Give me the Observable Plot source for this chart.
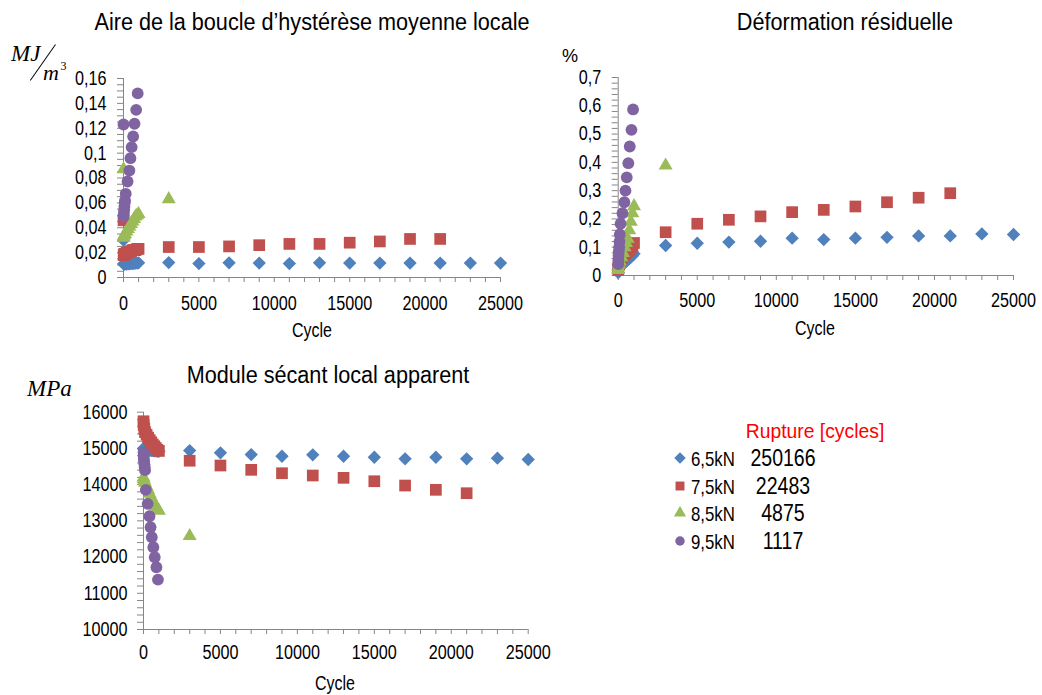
<!DOCTYPE html>
<html><head><meta charset="utf-8">
<script src="https://cdn.jsdelivr.net/npm/d3@7"></script>
<script src="https://cdn.jsdelivr.net/npm/@observablehq/plot@0.6"></script>
<style>
body{margin:0;background:#fff;}
#root{position:relative;width:1042px;height:695px;overflow:hidden;font-family:"Liberation Sans",Arial,sans-serif;color:#000;background:#fff;}
.abs{position:absolute;white-space:nowrap;line-height:1;}
</style></head><body><div id="root"></div>
<script>
// ---------- data ----------
const seriesNames = ["6,5kN", "7,5kN", "8,5kN", "9,5kN"];
const ruptureCycles = ["250166", "22483", "4875", "1117"];
const seriesColors = ["#4F81BD", "#C0504D", "#9BBB59", "#8064A2"];
const seriesSymbols = ["diamond2", "square", "triangle", "circle"];
const seriesRadius = [6.0, 6.6, 5.2, 5.9];

const cycles65 = [1, 10, 50, 100, 200, 300, 400, 500, 600, 700, 800, 900, 1000, 3000, 5000, 7000, 9000, 11000, 13000, 15000, 17000, 19000, 21000, 23000, 25000];
const area65 = [0.030, 0.011, 0.0105, 0.011, 0.0108, 0.011, 0.011, 0.0112, 0.0112, 0.0113, 0.0115, 0.0115, 0.0118, 0.0120, 0.0112, 0.0118, 0.0116, 0.0112, 0.0118, 0.0116, 0.0116, 0.0116, 0.0116, 0.0116, 0.0116];
const resid65 = [0.01, 0.02, 0.025, 0.03, 0.035, 0.04, 0.045, 0.05, 0.055, 0.06, 0.065, 0.07, 0.077, 0.106, 0.114, 0.118, 0.121, 0.132, 0.127, 0.132, 0.135, 0.140, 0.140, 0.147, 0.145];
const module65 = [15000, 14990, 14980, 14970, 14960, 14950, 14950, 14940, 14940, 14930, 14930, 14920, 14920, 14940, 14877, 14830, 14784, 14822, 14784, 14757, 14713, 14757, 14713, 14730, 14694];

const cycles75 = [1, 10, 50, 100, 200, 300, 400, 500, 600, 700, 800, 900, 1000, 3000, 5000, 7000, 9000, 11000, 13000, 15000, 17000, 19000, 21000];
const area75 = [0.046, 0.018, 0.019, 0.019, 0.020, 0.020, 0.021, 0.021, 0.022, 0.022, 0.022, 0.023, 0.023, 0.0245, 0.0245, 0.025, 0.026, 0.027, 0.027, 0.028, 0.029, 0.031, 0.031];
const resid75 = [0.02, 0.03, 0.04, 0.05, 0.06, 0.07, 0.075, 0.08, 0.085, 0.09, 0.10, 0.105, 0.115, 0.153, 0.183, 0.197, 0.209, 0.224, 0.232, 0.244, 0.259, 0.275, 0.291];
const module75 = [15750, 15650, 15550, 15450, 15380, 15300, 15230, 15170, 15110, 15060, 15010, 14960, 14930, 14660, 14528, 14409, 14315, 14252, 14188, 14094, 13975, 13857, 13763];

const cycles85 = [1, 10, 50, 100, 200, 300, 400, 500, 600, 700, 800, 900, 1000, 3000];
const area85 = [0.087, 0.032, 0.034, 0.035, 0.037, 0.039, 0.041, 0.043, 0.045, 0.047, 0.049, 0.050, 0.051, 0.063];
const resid85 = [0.02, 0.03, 0.04, 0.05, 0.065, 0.08, 0.10, 0.115, 0.13, 0.16, 0.19, 0.22, 0.245, 0.389];
const module85 = [14200, 14150, 14100, 14050, 13950, 13850, 13750, 13650, 13550, 13480, 13400, 13320, 13280, 12580];

const cycles95 = [1, 10, 20, 40, 60, 80, 100, 150, 270, 390, 460, 540, 640, 730, 840, 940];
const area95 = [0.123, 0.049, 0.051, 0.054, 0.057, 0.060, 0.062, 0.0673, 0.0772, 0.086, 0.0959, 0.1048, 0.1134, 0.1236, 0.1348, 0.148];
const resid95 = [0.04, 0.055, 0.07, 0.085, 0.10, 0.12, 0.145, 0.183, 0.220, 0.259, 0.300, 0.347, 0.397, 0.456, 0.515, 0.587];
const module95 = [14880, 14800, 14720, 14640, 14560, 14480, 14400, 13857, 13470, 13127, 12824, 12548, 12271, 11995, 11719, 11379];

const xMajorTicks = [0, 5000, 10000, 15000, 20000, 25000];
const areaMajorTicks = [0, 0.02, 0.04, 0.06, 0.08, 0.1, 0.12, 0.14, 0.16];
const residMajorTicks = [0, 0.1, 0.2, 0.3, 0.4, 0.5, 0.6, 0.7];
const moduleMajorTicks = [10000, 11000, 12000, 13000, 14000, 15000, 16000];

const allCycles = [cycles65, cycles75, cycles85, cycles95];
// ---------- helpers ----------
const root = document.getElementById("root");
const gray = "#868686";
const fmt = d3.formatLocale({decimal: ",", thousands: "", grouping: [3], currency: ["", ""]}).format("~g");

function minorTicks(major, sub) {
  const out = [];
  for (let i = 0; i < major.length - 1; i++) {
    const a = major[i], b = major[i + 1];
    for (let k = 0; k < sub; k++) out.push(+(a + (b - a) * k / sub).toFixed(6));
  }
  out.push(major[major.length - 1]);
  return out;
}
function isMajor(d, major) { return major.some(m => Math.abs(m - d) < 1e-9); }

function squeeze(svg, s) {
  svg.querySelectorAll("text").forEach(t => {
    const b = t.getBBox();
    const anchor = getComputedStyle(t).textAnchor;
    const ax = anchor === "end" ? b.x + b.width : anchor === "middle" ? b.x + b.width / 2 : b.x;
    const tr = t.getAttribute("transform") || "";
    t.setAttribute("transform", `${tr} translate(${ax},0) scale(${s},1) translate(${-ax},0)`);
  });
}

function label(text, cx, cy, opts = {}) {
  const d = document.createElement("div");
  d.className = "abs";
  d.textContent = text;
  d.style.left = cx + "px";
  d.style.top = cy + "px";
  d.style.fontSize = (opts.size || 19) + "px";
  if (opts.family) d.style.fontFamily = opts.family;
  if (opts.italic) d.style.fontStyle = "italic";
  if (opts.color) d.style.color = opts.color;
  const ax = opts.anchor === "start" ? "0" : opts.anchor === "end" ? "-100%" : "-50%";
  d.style.transformOrigin = opts.anchor === "start" ? "left center" : opts.anchor === "end" ? "right center" : "center center";
  d.style.transform = `translate(${ax},-50%) scaleX(${opts.sx || 1})`;
  root.appendChild(d);
  return d;
}

function chart({left, top, width, height, ml, mr, mt, mb, values, yDomain, yMajor, ySub, xPad, yPad}) {
  const marks = [
    Plot.axisX({ticks: minorTicks(xMajorTicks, 5), tickSize: 5, tickPadding: xPad, stroke: gray, fill: "#000",
      tickFormat: d => isMajor(d, xMajorTicks) ? String(d) : "", label: null}),
    Plot.axisY({ticks: minorTicks(yMajor, ySub), tickSize: 6, tickPadding: yPad, stroke: gray, fill: "#000",
      tickFormat: d => isMajor(d, yMajor) ? fmt(d) : "", label: null}),
    Plot.ruleX([0], {stroke: gray}),
    Plot.ruleY([yDomain[0]], {stroke: gray})
  ];
  values.forEach((vals, i) => {
    const data = allCycles[i].map((c, j) => ({cycle: c, value: vals[j]}));
    marks.push(Plot.dot(data, {x: "cycle", y: "value", symbol: seriesSymbols[i], fill: seriesColors[i], r: seriesRadius[i]}));
  });
  const svg = Plot.plot({
    width, height, marginLeft: ml, marginRight: mr, marginTop: mt, marginBottom: mb,
    x: {domain: [0, 25000]}, y: {domain: yDomain},
    style: {fontFamily: "'Liberation Sans', Arial, sans-serif", fontSize: "20px", background: "transparent", overflow: "visible"},
    marks
  });
  svg.style.position = "absolute";
  svg.style.left = left + "px";
  svg.style.top = top + "px";
  root.appendChild(svg);
  squeeze(svg, 0.81);
  return svg;
}

// ---------- charts ----------
chart({left: 0, top: 0, width: 540, height: 345, ml: 123, mr: 40, mt: 78, mb: 68,
  values: [area65, area75, area85, area95], yDomain: [0, 0.16], yMajor: areaMajorTicks, ySub: 4, xPad: 13, yPad: 11});
chart({left: 540, top: 0, width: 502, height: 345, ml: 77.7, mr: 29, mt: 77, mb: 70,
  values: [resid65, resid75, resid85, resid95], yDomain: [0, 0.7], yMajor: residMajorTicks, ySub: 5, xPad: 12, yPad: 11});
chart({left: 0, top: 345, width: 560, height: 350, ml: 143, mr: 32.3, mt: 66.7, mb: 66,
  values: [module65, module75, module85, module95], yDomain: [10000, 16000], yMajor: moduleMajorTicks, ySub: 5, xPad: 10, yPad: 10});

// ---------- titles & axis titles ----------
label("Aire de la boucle d\u2019hystérèse moyenne locale", 312, 22, {size: 23, sx: 0.94});
label("Déformation résiduelle", 845, 22, {size: 23, sx: 0.94});
label("Module sécant local apparent", 328, 375, {size: 23, sx: 0.94});
label("Cycle", 312, 330, {size: 20, sx: 0.8});
label("Cycle", 815, 328, {size: 20, sx: 0.8});
label("Cycle", 335, 683, {size: 20, sx: 0.8});

// units
const serif = "'Liberation Serif', 'Times New Roman', serif";
label("MJ", 11, 53, {size: 23, family: serif, italic: true, anchor: "start"});
const slash = document.createElement("div");
slash.style.cssText = "position:absolute;left:21px;top:61.5px;width:44px;height:1.3px;background:#000;transform:rotate(-55deg);transform-origin:center;";
root.appendChild(slash);
label("m", 43, 72.5, {size: 22, family: serif, italic: true, anchor: "start"});
label("3", 60.5, 66, {size: 12, family: serif, anchor: "start"});
label("%", 570, 55, {size: 19, sx: 0.95});
label("MPa", 27, 388, {size: 23, family: serif, italic: true, anchor: "start"});

// ---------- legend ----------
label("Rupture [cycles]", 815, 430, {size: 21, sx: 0.92, color: "#FF0000"});
const rowY = [458, 486, 513, 541];
const legendSymbols = [d3.symbolDiamond2, d3.symbolSquare, d3.symbolTriangle, d3.symbolCircle];
const legendSizes = [85, 80, 65, 70];
seriesNames.forEach((name, i) => {
  const s = document.createElementNS("http://www.w3.org/2000/svg", "svg");
  s.setAttribute("width", 14); s.setAttribute("height", 14);
  s.style.cssText = `position:absolute;left:${680 - 7}px;top:${rowY[i] - 7}px;`;
  const p = document.createElementNS("http://www.w3.org/2000/svg", "path");
  p.setAttribute("d", d3.symbol(legendSymbols[i], legendSizes[i])());
  p.setAttribute("transform", "translate(7,7)");
  p.setAttribute("fill", seriesColors[i]);
  s.appendChild(p);
  root.appendChild(s);
  label(name, 691, rowY[i], {size: 21, sx: 0.8, anchor: "start"});
  label(ruptureCycles[i], 783, rowY[i], {size: 23, sx: 0.85});
});
</script></body></html>
